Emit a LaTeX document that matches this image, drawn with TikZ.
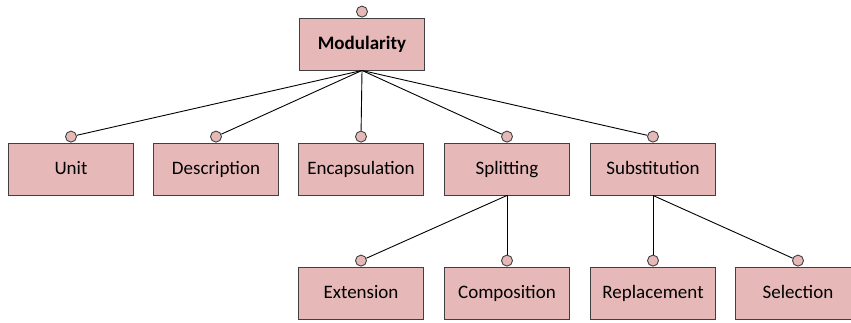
\documentclass[tikz,border=0pt]{standalone}
\usepackage{fontspec}
\setmainfont{Carlito}
\definecolor{boxfill}{HTML}{E6B9B8}
\definecolor{boxline}{HTML}{404040}
\begin{document}
\begin{tikzpicture}[x=1pt,y=-1pt,
  box/.style={draw=boxline,fill=boxfill,line width=0.9pt,minimum width=125pt,minimum height=52pt,inner sep=0pt,text height=1.25em,text depth=0.2em,font=\fontsize{19}{22}\selectfont},
  port/.style={circle,draw=boxline,fill=boxfill,line width=0.9pt,minimum size=11pt,inner sep=0pt},
  link/.style={draw=black,line width=0.9pt}]
\useasboundingbox (0,0) rectangle (851,322);
\node[box,font=\fontsize{19}{22}\selectfont\bfseries] (mod) at (362,44) {Modularity};
\node[box] (unit) at (71,169) {Unit};
\node[box] (desc) at (216,169) {Description};
\node[box] (enc) at (361,169) {Encapsulation};
\node[box] (spl) at (507,169) {Splitting};
\node[box] (sub) at (653,169) {Substitution};
\node[box] (ext) at (361,293) {Extension};
\node[box] (comp) at (507,293) {Composition};
\node[box] (rep) at (653,293) {Replacement};
\node[box] (sel) at (798,293) {Selection};
\foreach \n in {mod,unit,desc,enc,spl,sub,ext,comp,rep,sel}{
  \node[port,anchor=south] (p\n) at (\n.north) {};
}
\foreach \n in {unit,desc,enc,spl,sub}{
  \draw[link] (mod.south) -- (p\n);
}
\draw[link] (spl.south) -- (pext);
\draw[link] (spl.south) -- (pcomp);
\draw[link] (sub.south) -- (prep);
\draw[link] (sub.south) -- (psel);
\end{tikzpicture}
\end{document}
